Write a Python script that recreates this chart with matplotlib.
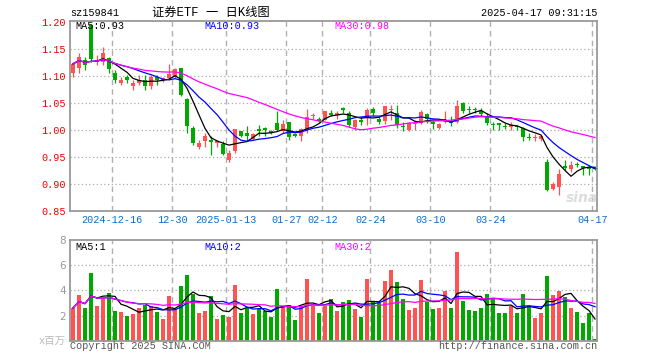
import numpy as np
import pandas as pd
import matplotlib
matplotlib.use("Agg")
import matplotlib.pyplot as plt

# daily OHLC, oldest first
opens = [1.105, 1.115, 1.129, 1.194, 1.126, 1.126, 1.132, 1.106, 1.087, 1.097,
         1.081, 1.087, 1.092, 1.081, 1.098, 1.092, 1.095, 1.098, 1.114, 1.057,
         1.003, 0.969, 0.980, 0.981, 0.976, 0.973, 0.944, 0.961, 0.997, 0.995,
         0.984, 1.002, 1.003, 0.998, 1.012, 0.998, 1.014, 0.992, 0.988, 0.999,
         1.025, 1.021, 1.019, 1.032, 1.028, 1.041, 1.032, 1.005, 1.019, 1.024,
         1.039, 1.020, 1.017, 1.037, 1.032, 1.007, 1.000, 1.011, 1.013, 1.029,
         1.015, 1.003, 1.015, 1.017, 1.015, 1.050, 1.038, 1.038, 1.035, 1.023,
         1.011, 1.012, 1.007, 1.006, 1.007, 1.003, 0.987, 0.985, 0.983, 0.940,
         0.890, 0.894, 0.933, 0.928, 0.937, 0.934, 0.931, 0.929]
highs = [1.126, 1.143, 1.135, 1.196, 1.138, 1.154, 1.134, 1.110, 1.098, 1.101,
         1.092, 1.101, 1.101, 1.101, 1.101, 1.098, 1.121, 1.114, 1.115, 1.058,
         1.007, 0.981, 0.994, 0.989, 0.981, 0.979, 0.963, 1.002, 0.998, 1.007,
         0.994, 1.009, 1.006, 1.000, 1.035, 1.018, 1.015, 0.995, 1.003, 1.038,
         1.032, 1.024, 1.035, 1.037, 1.034, 1.043, 1.034, 1.021, 1.024, 1.041,
         1.042, 1.024, 1.044, 1.046, 1.046, 1.015, 1.015, 1.018, 1.037, 1.031,
         1.018, 1.012, 1.034, 1.026, 1.056, 1.052, 1.044, 1.043, 1.040, 1.031,
         1.015, 1.013, 1.012, 1.014, 1.009, 1.006, 0.994, 0.992, 0.991, 0.947,
         0.904, 0.927, 0.944, 0.942, 0.941, 0.934, 0.934, 0.931]
lows = [1.098, 1.106, 1.111, 1.126, 1.120, 1.120, 1.106, 1.086, 1.083, 1.086,
        1.074, 1.083, 1.074, 1.076, 1.083, 1.089, 1.092, 1.095, 1.062, 0.994,
        0.972, 0.965, 0.969, 0.954, 0.969, 0.953, 0.941, 0.958, 0.986, 0.980,
        0.982, 0.988, 0.988, 0.992, 0.997, 0.995, 0.981, 0.986, 0.980, 0.995,
        1.020, 1.015, 1.018, 1.025, 1.020, 1.032, 1.005, 1.000, 1.009, 1.009,
        1.026, 1.011, 1.011, 1.018, 1.003, 0.997, 0.998, 0.999, 1.010, 1.012,
        1.001, 1.001, 1.013, 1.007, 1.012, 1.031, 1.031, 1.031, 1.026, 1.009,
        1.000, 1.000, 1.001, 0.999, 1.000, 0.980, 0.981, 0.980, 0.980, 0.887,
        0.888, 0.880, 0.925, 0.923, 0.931, 0.917, 0.917, 0.925]
closes = [1.122, 1.134, 1.119, 1.131, 1.130, 1.143, 1.112, 1.092, 1.093, 1.092,
          1.087, 1.093, 1.081, 1.097, 1.092, 1.095, 1.103, 1.113, 1.065, 1.008,
          0.976, 0.976, 0.989, 0.978, 0.979, 0.955, 0.958, 1.001, 0.989, 0.989,
          0.992, 0.998, 1.000, 0.994, 1.000, 1.011, 0.986, 0.989, 1.002, 1.023,
          1.027, 1.017, 1.034, 1.028, 1.031, 1.036, 1.009, 1.018, 1.014, 1.037,
          1.032, 1.015, 1.044, 1.038, 1.009, 1.005, 1.013, 1.013, 1.033, 1.021,
          1.011, 1.011, 1.017, 1.012, 1.044, 1.035, 1.036, 1.036, 1.029, 1.012,
          1.009, 1.009, 1.005, 1.009, 1.005, 0.987, 0.985, 0.987, 0.989, 0.889,
          0.900, 0.918, 0.929, 0.935, 0.935, 0.929, 0.928, 0.927]
# volume, millions
volumes = [2.60, 3.63, 2.60, 5.38, 2.75, 3.34, 3.76, 2.36, 2.28, 1.96,
           2.12, 2.60, 2.86, 2.73, 2.28, 1.72, 3.55, 2.49, 4.37, 5.25,
           3.70, 2.20, 2.36, 3.55, 1.72, 2.04, 1.88, 4.45, 2.20, 2.62,
           2.12, 2.52, 2.33, 1.88, 4.10, 2.73, 2.86, 1.64, 2.78, 4.90,
           2.78, 2.20, 2.78, 3.31, 2.38, 3.07, 3.23, 2.52, 1.88, 4.90,
           3.07, 3.07, 4.74, 5.62, 4.66, 3.31, 2.46, 2.60, 4.82, 3.10,
           2.52, 2.60, 3.95, 2.60, 7.05, 3.15, 2.44, 2.36, 2.60, 3.70,
           3.31, 2.20, 2.20, 2.75, 2.20, 3.70, 2.75, 1.80, 2.20, 5.14,
           3.63, 3.95, 3.47, 2.60, 2.28, 1.40, 2.20, 0.13]

tick_idx = [7, 17, 26, 36, 42, 50, 60, 70, 87]
tick_labels = ['2024-12-16', '12-30', '2025-01-13', '01-27', '02-12',
               '02-24', '03-10', '03-24', '04-17']
price_grid = [0.90, 0.95, 1.00, 1.05, 1.10, 1.15]
price_ticks = [0.85, 0.90, 0.95, 1.00, 1.05, 1.10, 1.15, 1.20]
vol_ticks = [2, 4, 6, 8]
price_legend = ['MA5:0.93', 'MA10:0.93', 'MA30:0.98']
vol_legend = ['MA5:1', 'MA10:2', 'MA30:2']

RED = '#ff5252'
GREEN = '#00a800'
MA_COLORS = ['#000000', '#0000ff', '#ff00ff']
MONO = 'Liberation Mono'
W, H = 660, 360


def box(x0, y0, x1, y1):
    return [x0 / W, 1 - y1 / H, (x1 - x0) / W, (y1 - y0) / H]


def fx(x):
    return x / W


def fy(y):
    return 1 - y / H


df = pd.DataFrame({'o': opens, 'h': highs, 'l': lows, 'c': closes, 'v': volumes})
x = np.arange(len(df))
up = df.c >= df.o
colors = np.where(up, RED, GREEN)

fig = plt.figure(figsize=(W / 100, H / 100), dpi=100)
ax_p = fig.add_axes(box(70, 20.7, 597.3, 211))
ax_v = fig.add_axes(box(70, 240, 597.3, 340.7))

for ax in (ax_p, ax_v):
    ax.set_xlim(-0.5, 87.38)
    for s in ax.spines.values():
        s.set_color('#999999')
        s.set_linewidth(1.3)
    for t in tick_idx:
        ax.axvline(t - 0.45, color='#b0b0b0', lw=1.0, ls=(0, (4, 3)), zorder=0)

# price panel
for p in price_grid:
    ax_p.axhline(p, color='#aaaaaa', lw=0.9, ls=(0, (1, 2)), zorder=0)
ax_p.vlines(x, df.l, df.h, colors=colors, lw=0.9, zorder=2)
body = np.maximum((df.c - df.o).abs(), 0.0016)
ax_p.bar(x, body, bottom=np.minimum(df.o, df.c), width=0.8, color=colors, zorder=3)
for n, col in zip([5, 10, 30], MA_COLORS):
    ax_p.plot(x, df.c.rolling(n, min_periods=1).mean(), color=col, lw=0.9, zorder=4)
ax_p.set_ylim(0.85, 1.2018)
ax_p.set_yticks(price_ticks)
ax_p.set_yticklabels(['%.2f' % p for p in price_ticks], color='#ee0000',
                     fontsize=7.3, family=MONO)
ax_p.set_xticks([t - 0.45 for t in tick_idx])
ax_p.set_xticklabels(tick_labels, color='#0a6ccf', fontsize=7.3, family=MONO)
ax_p.tick_params(length=0, pad=3)

# volume panel
for v in vol_ticks[:-1]:
    ax_v.axhline(v, color='#aaaaaa', lw=0.9, ls=(0, (1, 2)), zorder=0)
ax_v.bar(x, df.v, width=0.8, color=colors, zorder=2)
for n, col in zip([5, 10, 30], MA_COLORS):
    ax_v.plot(x, df.v.rolling(n, min_periods=1).mean(), color=col, lw=0.9, zorder=3)
ax_v.set_ylim(0, 8)
ax_v.set_yticks(vol_ticks)
ax_v.set_yticklabels([str(v) for v in vol_ticks], color='#999999', fontsize=7.5)
ax_v.set_xticks([])
ax_v.tick_params(length=0, pad=3)

# legends
for txt, col, xp in zip(price_legend, MA_COLORS, [75, 204, 334.7]):
    fig.text(fx(xp), fy(26), txt, color=col, fontsize=7.3, family=MONO, va='center')
for txt, col, xp in zip(vol_legend, MA_COLORS, [75, 204, 334.7]):
    fig.text(fx(xp), fy(246.7), txt, color=col, fontsize=7.3, family=MONO, va='center')

# header / footer
fig.text(fx(70), fy(13), 'sz159841', fontsize=7.3, family=MONO, va='center')
fig.text(fx(211), fy(13), '证券ETF 一 日K线图', fontsize=8.8, ha='center', va='center',
         family=[MONO, 'Noto Sans CJK SC'])
fig.text(fx(597), fy(13), '2025-04-17 09:31:15', fontsize=7.3, family=MONO,
         ha='right', va='center')
fig.text(fx(66), fy(341), 'x百万', fontsize=7.5, ha='right', va='center', color='#bbbbbb',
         family=[MONO, 'Noto Sans CJK SC'])
fig.text(fx(69.5), fy(345.7), 'Copyright 2025 SINA.COM', fontsize=7.3, family=MONO,
         color='#555555', va='center')
fig.text(fx(597), fy(345.7), 'http://finance.sina.com.cn', fontsize=7.3, family=MONO,
         color='#555555', ha='right', va='center')
fig.text(fx(582), fy(198), 'sina', fontsize=10, fontweight='bold', style='italic',
         color='#dcdcdc', ha='center', va='center', zorder=0)

fig.savefig('out.png', dpi=100)
